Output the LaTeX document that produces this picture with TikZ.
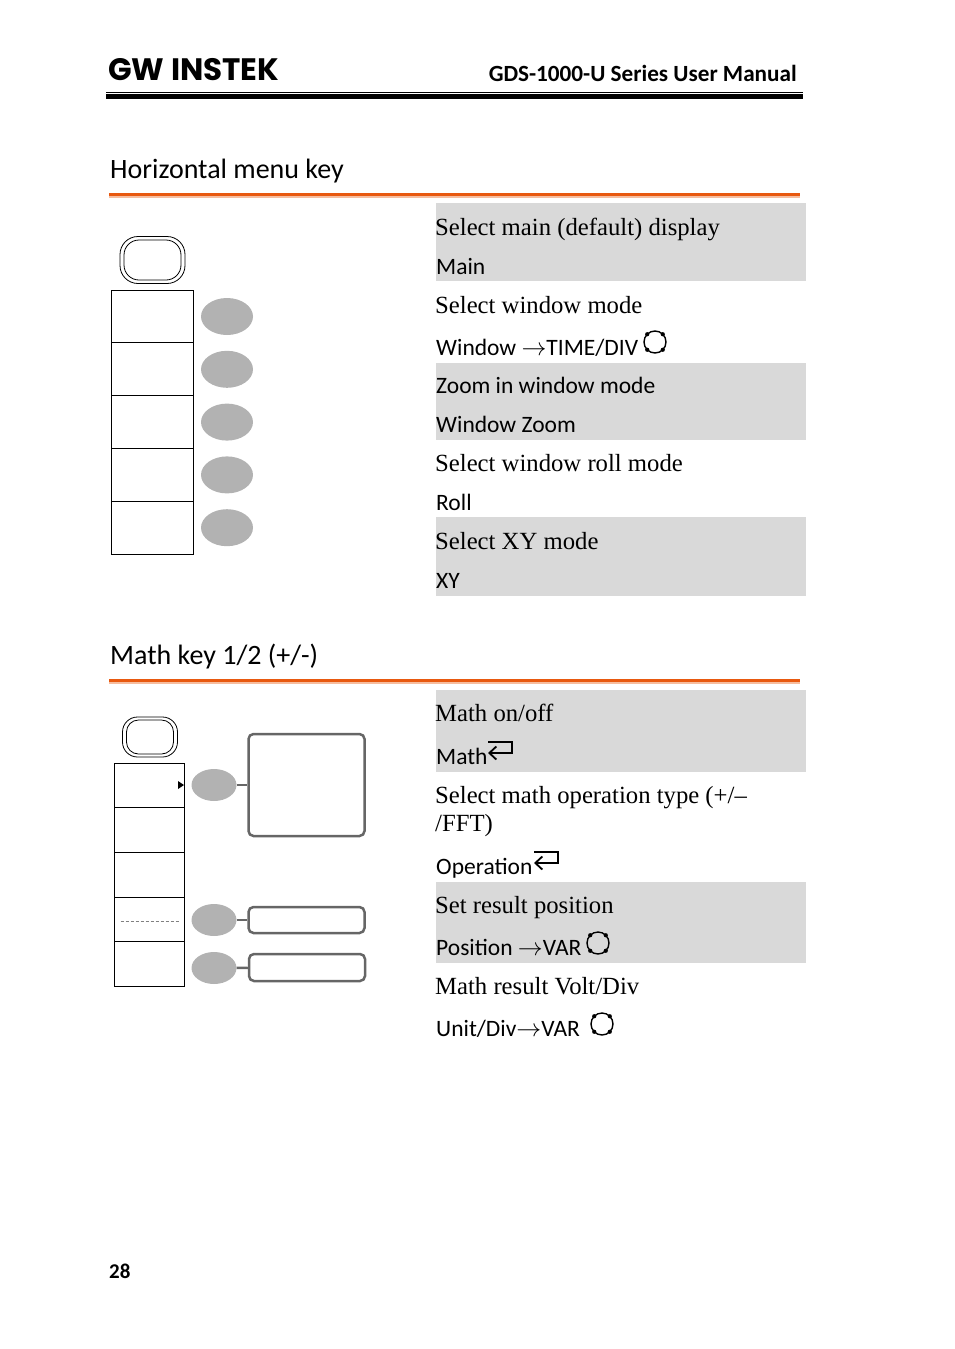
\documentclass[tikz,border=0pt]{standalone}
\usepackage{fontspec}
\setmainfont{Liberation Serif}
\newfontfamily\menufont{Carlito}
\newfontfamily\logofont{Poppins}
\usetikzlibrary{positioning}
\usetikzlibrary{shapes.geometric}
\usetikzlibrary{arrows.meta}
\definecolor{bandgray}{HTML}{D9D9D9}
\definecolor{softgray}{HTML}{B2B2B2}
\definecolor{linegray}{HTML}{666666}
\definecolor{ruleorange}{HTML}{E8590F}
\tikzset{
	desc/.style={anchor=base west,inner sep=0pt,font=\fontsize{24.7}{24}\selectfont},
	keyname/.style={anchor=base west,inner sep=0pt,font=\menufont\fontsize{23.5}{25}\selectfont},
	heading/.style={anchor=base west,inner sep=0pt,font=\menufont\fontsize{28}{28}\selectfont},
	band/.style={fill=bandgray,draw=none,inner sep=0pt,minimum width=370pt,anchor=north west},
	softbox/.style={draw,line width=1pt,outer sep=0pt,minimum width=82pt,minimum height=52.8pt,inner sep=0pt},
	softboxb/.style={draw,line width=1pt,outer sep=0pt,minimum width=70pt,minimum height=44.6pt,inner sep=0pt},
	softkey/.style={ellipse,fill=softgray,draw=none,minimum width=52pt,minimum height=37pt,inner sep=0pt},
	softkeyb/.style={ellipse,fill=softgray,draw=none,minimum width=45pt,minimum height=32pt,inner sep=0pt},
	readout/.style={draw=linegray,line width=2.5pt,rounded corners=5pt,minimum width=116pt,inner sep=0pt},
	link/.style={draw=linegray,line width=2.5pt},
	pics/knob/.style={code={
		\draw[line width=1.4pt] (0,0) circle (11pt);
		\foreach \a in {45,135,225,315} \fill (\a:11pt) circle (2.1pt);
	}},
	pics/enterkey/.style={code={
		\draw[line width=1.8pt,-{Straight Barb[length=7pt,width=13pt]}] (0,-5) -- (24,-5) -- (24,6) -- (0,6);
	}}
}
\begin{document}
\begin{tikzpicture}[x=1pt,y=-1pt]
	\useasboundingbox (0,0) rectangle (954,1349);
	
	% header
	\node[anchor=base west,inner sep=0pt,font=\logofont\bfseries\fontsize{31}{31}\selectfont] (logo) at (108,80) {GW INSTEK};
	\node[anchor=base east,inner sep=0pt,font=\menufont\bfseries\fontsize{23.2}{24}\selectfont] (manual) at (797,81) {GDS-1000-U Series User Manual};
	\fill (106,91.5) rectangle (803,92.5); \fill (106,94) rectangle (803,99);
	\node[anchor=base west,inner sep=0pt,font=\menufont\bfseries\fontsize{21}{21}\selectfont] (pagenum) at (109,1278) {28};
	
	% horizontal menu
	\node[heading] (hmenu) at (110,178) {Horizontal menu key};
	\fill[ruleorange] (109,193) rectangle (800,196); \fill[ruleorange!40] (109,196) rectangle (800,197.5);
	
	\node[band,minimum height=78pt] (b1) at (436,203) {};
	\node[band,minimum height=77pt] (b2) at (436,363) {};
	\node[band,minimum height=79pt] (b3) at (436,517) {};
	
	\node[draw,rounded corners=18pt,line width=.8pt,minimum width=65pt,minimum height=47pt] (hbtn) at (152.5,260) {};
	\node[draw,rounded corners=15pt,line width=.8pt,minimum width=57pt,minimum height=40pt] at (hbtn) {};
	
	\node[softbox] (h1) at (152,316.5) {};
	\node[softbox,below=0pt of h1] (h2) {};
	\node[softbox,below=0pt of h2] (h3) {};
	\node[softbox,below=0pt of h3] (h4) {};
	\node[softbox,below=0pt of h4] (h5) {};
	\foreach \n in {1,...,5} \node[softkey] (hk\n) at ([xshift=75pt]h\n) {};
	
	\node[desc] (t1) at (435,235) {Select main (default) display};
	\node[keyname] (t2) at (436,274) {Main};
	\node[desc] (t3) at (435,313) {Select window mode};
	\node[keyname] (t4) at (436,355) {Window $\rightarrow$TIME/DIV};
	\pic at (655,342) {knob};
	\node[keyname] (t5) at (436,393) {Zoom in window mode};
	\node[keyname] (t6) at (436,432) {Window Zoom};
	\node[desc] (t7) at (435,471) {Select window roll mode};
	\node[keyname] (t8) at (436,510) {Roll};
	\node[desc] (t9) at (435,549) {Select XY mode};
	\node[keyname] (t10) at (436,588) {XY};
	
	% math menu
	\node[heading] (mmenu) at (110,664) {Math key 1/2 (+/-)};
	\fill[ruleorange] (109,679) rectangle (800,682); \fill[ruleorange!40] (109,682) rectangle (800,683.5);
	
	\node[band,minimum height=82pt] (b4) at (436,690) {};
	\node[band,minimum height=81pt] (b5) at (436,882) {};
	
	\node[draw,rounded corners=15pt,line width=.8pt,minimum width=55pt,minimum height=40pt] (mbtn) at (150,737) {};
	\node[draw,rounded corners=12pt,line width=.8pt,minimum width=47pt,minimum height=34pt] at (mbtn) {};
	
	\node[softboxb] (m1) at (149.5,785.5) {};
	\node[softboxb,below=0pt of m1] (m2) {};
	\node[softboxb,below=0pt of m2] (m3) {};
	\node[softboxb,below=0pt of m3] (m4) {};
	\node[softboxb,below=0pt of m4] (m5) {};
	\fill (178,781) -- (184,785) -- (178,789) -- cycle;
	\draw[gray,densely dashed,line width=.4pt] ([xshift=-29pt,yshift=-1.5pt]m4.center) -- ([xshift=29pt,yshift=-1.5pt]m4.center);
	
	\node[softkeyb] (mk1) at (214,785) {};
	\node[softkeyb] (mk4) at (214,920) {};
	\node[softkeyb] (mk5) at (214,968) {};
	\node[readout,minimum height=102pt] (r1) at (306.5,785) {};
	\node[readout,minimum height=26pt] (r4) at (306.5,920) {};
	\node[readout,minimum height=27pt] (r5) at (307,967.5) {};
	\draw[link] (mk1) -- (r1); \draw[link] (mk4) -- (r4); \draw[link] (mk5) -- (r5);
	
	\node[desc] (t11) at (435,721) {Math on/off};
	\node[keyname] (t12) at (436,764) {Math};
	\pic at (488,747) {enterkey};
	\node[desc] (t13) at (435,803) {Select math operation type (+/--};
	\node[desc] (t14) at (435,831) {/FFT)};
	\node[keyname] (t15) at (436,874) {Operation};
	\pic at (534,857) {enterkey};
	\node[desc] (t16) at (435,913) {Set result position};
	\node[keyname] (t17) at (436,955) {Position $\rightarrow$VAR};
	\pic at (598,943) {knob};
	\node[desc] (t18) at (435,994) {Math result Volt/Div};
	\node[keyname] (t19) at (436,1036) {Unit/Div$\rightarrow$VAR};
	\pic at (602,1024) {knob};
	
\end{tikzpicture}
\end{document}
